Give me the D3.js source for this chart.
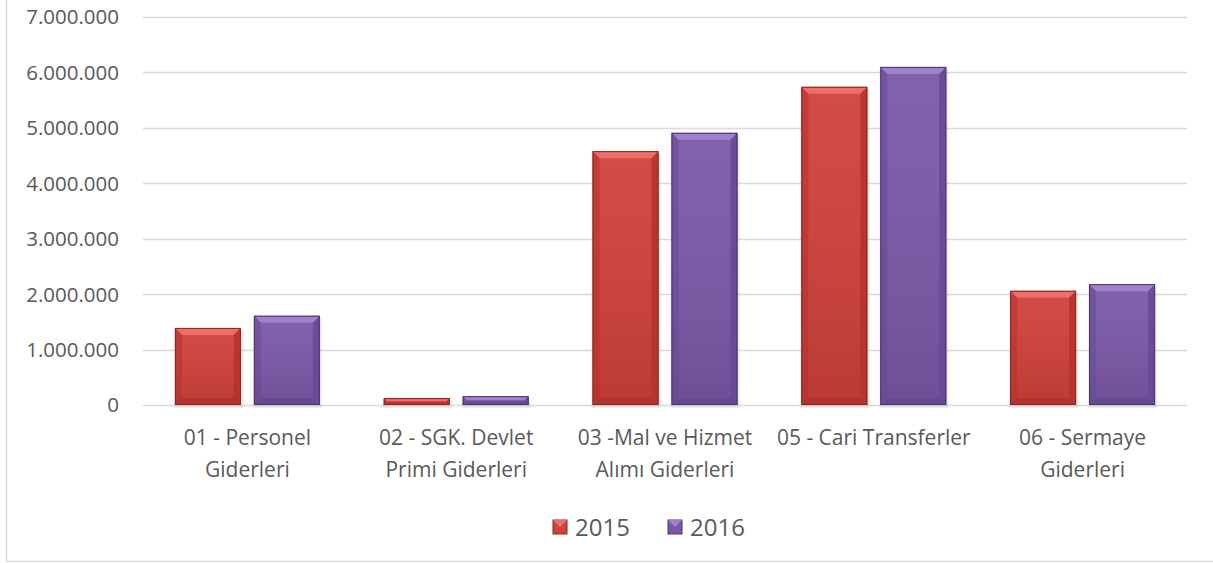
<!DOCTYPE html>
<html>
<head>
<meta charset="utf-8">
<script src="https://cdn.jsdelivr.net/npm/d3@7"></script>
<style>
  body { margin: 0; background: #fff; }
  svg { display: block; font-family: "Open Sans", sans-serif; }
</style>
</head>
<body>
<div id="container"></div>
<script>
/* DATA */
const categories = [
  ["01 - Personel", "Giderleri"],
  ["02 - SGK. Devlet", "Primi Giderleri"],
  ["03 -Mal ve Hizmet", "Alımı Giderleri"],
  ["05 - Cari Transferler"],
  ["06 - Sermaye", "Giderleri"]
];
const seriesNames = ["2015", "2016"];
const values2015 = [1390000, 125000, 4580000, 5740000, 2060000];
const values2016 = [1610000, 160000, 4910000, 6100000, 2180000];
const yTicks = [0, 1000000, 2000000, 3000000, 4000000, 5000000, 6000000, 7000000];

/* CONSTANTS */
const width = 1213, height = 563;
const margin = { top: 17, bottom: 158, left: 143, right: 26 };

const palette = {
  "2015": { face: "#d1403a", top: "#ec6f68", side: "#b5322d", bottom: "#a92e29", line: "#8c2823" },
  "2016": { face: "#7a58a8", top: "#a082cc", side: "#684895", bottom: "#61448b", line: "#4c356f" }
};

const svg = d3.select("#container").append("svg")
  .attr("width", width)
  .attr("height", height);

// vertical shading inside bars
const defs = svg.append("defs");
const grad = defs.append("linearGradient")
  .attr("id", "shade").attr("x1", 0).attr("x2", 0).attr("y1", 0).attr("y2", 1);
grad.append("stop").attr("offset", "0%").attr("stop-color", "#fff").attr("stop-opacity", 0.06);
grad.append("stop").attr("offset", "100%").attr("stop-color", "#000").attr("stop-opacity", 0.1);

// outer frame
svg.append("rect")
  .attr("x", 6.5).attr("y", -10)
  .attr("width", width + 10).attr("height", 561.5 + 10)
  .attr("fill", "none")
  .attr("stroke", "#d9d9d9")
  .attr("stroke-width", 1.5);

// SCALES
const y = d3.scaleLinear()
  .domain([0, 7000000])
  .range([height - margin.bottom, margin.top]);

const x0 = d3.scaleBand()
  .domain(d3.range(categories.length))
  .range([margin.left, width - margin.right]);

const x1 = d3.scaleBand()
  .domain(seriesNames)
  .range([x0.bandwidth() * 0.153, x0.bandwidth() * 0.847])
  .paddingInner(0.165);

// GRID + Y AXIS
const fmt = v => d3.format(",")(v).replace(/,/g, ".");

svg.append("g")
  .selectAll("line")
  .data(yTicks)
  .join("line")
  .attr("x1", margin.left)
  .attr("x2", width - margin.right)
  .attr("y1", d => Math.round(y(d)) + 0.5)
  .attr("y2", d => Math.round(y(d)) + 0.5)
  .attr("stroke", "#d9d9d9")
  .attr("stroke-width", 1.5);

svg.append("g")
  .selectAll("text")
  .data(yTicks)
  .join("text")
  .attr("x", 119)
  .attr("y", d => y(d))
  .attr("dy", "0.36em")
  .attr("text-anchor", "end")
  .attr("font-size", 20.5)
  .attr("fill", "#595959")
  .text(fmt);

// BARS
const rows = [];
values2015.forEach((v, i) => rows.push({ i, s: "2015", v }));
values2016.forEach((v, i) => rows.push({ i, s: "2016", v }));

const bars = svg.append("g")
  .selectAll("g.bar")
  .data(rows)
  .join("g")
  .attr("class", "bar");

const geom = d => {
  const xa = x0(d.i) + x1(d.s), xb = xa + x1.bandwidth();
  const ya = y(d.v), yb = y(0);
  const b = Math.min(7, (yb - ya) / 2);
  return { xa, xb, ya, yb, b };
};
const poly = pts => pts.map(p => p.join(",")).join(" ");

// soft shadow
bars.append("rect")
  .attr("x", d => geom(d).xa - 1)
  .attr("y", d => geom(d).ya + 2)
  .attr("width", d => geom(d).xb - geom(d).xa + 3)
  .attr("height", d => geom(d).yb - geom(d).ya + 1)
  .attr("fill", "#000")
  .attr("opacity", 0.08);

bars.append("rect")
  .attr("x", d => geom(d).xa)
  .attr("y", d => geom(d).ya)
  .attr("width", d => geom(d).xb - geom(d).xa)
  .attr("height", d => geom(d).yb - geom(d).ya)
  .attr("fill", d => palette[d.s].face);

bars.append("rect")
  .attr("x", d => geom(d).xa)
  .attr("y", d => geom(d).ya)
  .attr("width", d => geom(d).xb - geom(d).xa)
  .attr("height", d => geom(d).yb - geom(d).ya)
  .attr("fill", "url(#shade)");

// bevel faces
bars.append("polygon")
  .attr("points", d => { const g = geom(d);
    return poly([[g.xa, g.ya], [g.xb, g.ya], [g.xb - g.b, g.ya + g.b], [g.xa + g.b, g.ya + g.b]]); })
  .attr("fill", d => palette[d.s].top);
bars.append("polygon")
  .attr("points", d => { const g = geom(d);
    return poly([[g.xa, g.ya], [g.xa + g.b, g.ya + g.b], [g.xa + g.b, g.yb - g.b], [g.xa, g.yb]]); })
  .attr("fill", d => palette[d.s].side).attr("opacity", 0.55);
bars.append("polygon")
  .attr("points", d => { const g = geom(d);
    return poly([[g.xb, g.ya], [g.xb - g.b, g.ya + g.b], [g.xb - g.b, g.yb - g.b], [g.xb, g.yb]]); })
  .attr("fill", d => palette[d.s].side).attr("opacity", 0.85);
bars.append("polygon")
  .attr("points", d => { const g = geom(d);
    return poly([[g.xa, g.yb], [g.xa + g.b, g.yb - g.b], [g.xb - g.b, g.yb - g.b], [g.xb, g.yb]]); })
  .attr("fill", d => palette[d.s].bottom).attr("opacity", 0.6);

bars.append("rect")
  .attr("x", d => geom(d).xa + 0.5)
  .attr("y", d => geom(d).ya + 0.5)
  .attr("width", d => geom(d).xb - geom(d).xa - 1)
  .attr("height", d => Math.max(0, geom(d).yb - geom(d).ya - 1))
  .attr("fill", "none")
  .attr("stroke", d => palette[d.s].line)
  .attr("stroke-width", 1);

// CATEGORY LABELS
svg.append("g")
  .selectAll("text")
  .data(categories)
  .join("text")
  .attr("x", (d, i) => x0(i) + x0.bandwidth() / 2)
  .attr("y", 437)
  .attr("text-anchor", "middle")
  .attr("font-size", 21)
  .attr("fill", "#595959")
  .selectAll("tspan")
  .data(d => d)
  .join("tspan")
  .attr("x", function () { return this.parentNode.getAttribute("x"); })
  .attr("dy", (d, j) => j === 0 ? "0.36em" : 32)
  .text(d => d);

// LEGEND
const legend = svg.append("g")
  .selectAll("g")
  .data(seriesNames)
  .join("g")
  .attr("transform", (d, i) => `translate(${553 + i * 115}, 527)`);

legend.append("rect")
  .attr("x", 0).attr("y", -7)
  .attr("width", 14).attr("height", 14)
  .attr("fill", d => palette[d].face)
  .attr("stroke", d => palette[d].line);
legend.append("polygon")
  .attr("points", "0,-7 14,-7 7,0")
  .attr("fill", d => palette[d].top);

legend.append("text")
  .attr("x", 22)
  .attr("dy", "0.36em")
  .attr("font-size", 24)
  .attr("fill", "#595959")
  .text(d => d);
</script>
</body>
</html>
